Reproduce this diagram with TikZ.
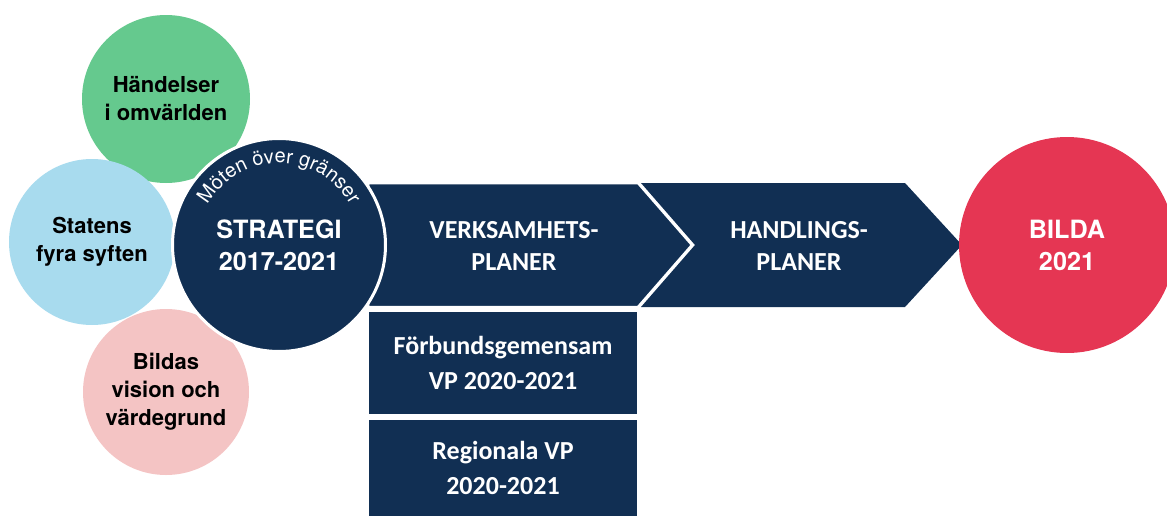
\documentclass[tikz,border=0pt]{standalone}
\usepackage{fontspec}
\setmainfont{TeX Gyre Heros}
\newfontfamily\carlito{Carlito}
\usetikzlibrary{decorations.text}
\definecolor{navy}{RGB}{17,47,83}
\definecolor{cgreen}{RGB}{101,201,142}
\definecolor{cblue}{RGB}{168,219,238}
\definecolor{cpink}{RGB}{244,196,196}
\definecolor{cred}{RGB}{229,54,83}
\tikzset{
  bub/.style={circle, inner sep=0pt, align=center, text=black,
    font=\bfseries\fontsize{11}{14}\selectfont},
  bigbub/.style={circle, inner sep=0pt, align=center, text=white,
    font=\bfseries\fontsize{12.6}{16}\selectfont},
  chevtext/.style={align=center, text=white, inner sep=0pt,
    font=\carlito\bfseries\fontsize{13}{16}\selectfont},
  planbox/.style={rectangle, fill=navy, inner sep=0pt, align=center, text=white,
    minimum width=134pt, font=\carlito\bfseries\fontsize{13}{17.5}\selectfont},
}
\begin{document}
\begin{tikzpicture}[x=0.5pt,y=0.5pt]
\useasboundingbox (0,0) rectangle (1167,516);
% side circles
\node[bub, fill=cgreen, minimum size=84pt] (omv) at (166,417) {Händelser\\i omvärlden};
\node[bub, fill=cblue, minimum size=83pt] (syf) at (92,274) {Statens\\fyra syften};
\node[bub, fill=cpink, minimum size=83pt] (vis) at (166,124) {Bildas\\vision och\\värdegrund};
% chevrons
\fill[navy] (641,333) -- (905,333) -- (962,271) -- (905,209) -- (641,209) -- (695,271) -- cycle;
\filldraw[fill=navy, draw=white, line width=1.25pt, line join=miter]
  (368,333) -- (638,333) -- (692,271) -- (638,209) -- (368,209) -- cycle;
\node[chevtext] (vp) at (514,270) {VERKSAMHETS-\\PLANER};
\node[chevtext] (hp) at (799,270) {HANDLINGS-\\PLANER};
% plan boxes
\node[planbox, minimum height=51pt] (fvp) at (503,153) {Förbundsgemensam\\VP 2020-2021};
\node[planbox, minimum height=48pt] (rvp) at (503,48) {Regionala VP\\2020-2021};
% strategy circle
\node[bigbub, fill=navy, draw=white, line width=1.5pt, minimum size=106.5pt] (strat) at (279,271) {STRATEGI\\2017-2021};
\path[decorate, decoration={text along path, text align=center,
   text={|\fontsize{10}{11}\selectfont\color{white}|Möten över gränser}}]
  (strat.center) ++(180:41pt) arc[start angle=180, end angle=0, radius=41pt];
% goal
\node[bigbub, fill=cred, minimum size=108pt] (bilda) at (1067,271) {BILDA\\2021};
\end{tikzpicture}
\end{document}
